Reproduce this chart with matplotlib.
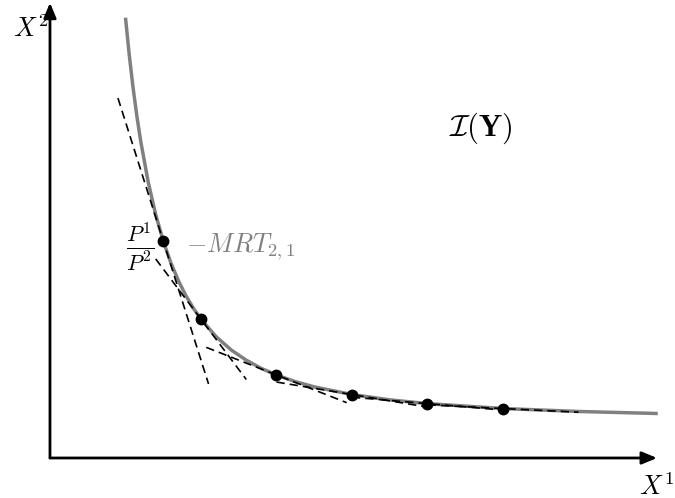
import numpy as np
import matplotlib
matplotlib.use("Agg")
import matplotlib.pyplot as plt

plt.rcParams['mathtext.fontset'] = 'cm'
plt.rcParams['font.family'] = 'DejaVu Serif'

# isoquant I(Y): points along the curve
curve_x = [1.0, 1.05, 1.1, 1.15, 1.2, 1.3, 1.4, 1.5, 1.6, 1.7, 1.8, 1.9, 2.0,
           2.2, 2.4, 2.6, 2.8, 3.0, 3.25, 3.5, 4.0, 4.5, 5.0, 6.0, 7.0, 8.05]
curve_y = [5.832, 5.337, 4.908, 4.533, 4.205, 3.658, 3.224, 2.874, 2.587,
           2.350, 2.150, 1.982, 1.838, 1.607, 1.431, 1.295, 1.186, 1.099,
           1.011, 0.942, 0.840, 0.770, 0.720, 0.655, 0.616, 0.589]

# tangency points, slopes of the tangents and how far each tangent reaches
dot_x = [1.5, 2.0, 3.0, 4.0, 5.0, 6.0]
dot_y = [2.874, 1.838, 1.099, 0.840, 0.720, 0.655]
slopes = [-3.156, -1.331, -0.394, -0.166, -0.085, -0.049]
half_width = [0.6, 0.6, 0.93, 1.0, 1.0, 1.0]

fig = plt.figure(figsize=(6.75, 4.98), dpi=100)
ax = fig.add_axes([0, 0, 1, 1])
ax.set_xlim(-0.662, 8.278)
ax.set_ylim(-0.530, 6.066)
ax.axis('off')

# axes with arrow heads
arrow = dict(arrowstyle='-|>,head_length=0.6,head_width=0.25', lw=2.0,
             color='k', mutation_scale=15, shrinkA=0, shrinkB=0)
ax.annotate('', xy=(8.04, 0), xytext=(0, 0), arrowprops=arrow)
ax.annotate('', xy=(0, 6.03), xytext=(0, 0), arrowprops=arrow)

# the isoquant
ax.plot(curve_x, curve_y, color='0.5', lw=2.5, solid_capstyle='butt', zorder=2)

# tangent lines at each point
for x0, y0, m, w in zip(dot_x, dot_y, slopes, half_width):
    xs = np.array([x0 - w, x0 + w])
    ax.plot(xs, y0 + m * (xs - x0), color='k', lw=1.2, dashes=(5, 3), zorder=3)

ax.plot(dot_x, dot_y, 'o', color='k', ms=7.5, zorder=4)

# labels
ax.text(-0.49, 5.57, r'$X^2$', fontsize=19, ha='left', va='baseline')
ax.text(7.80, -0.49, r'$X^1$', fontsize=19, ha='left', va='baseline')
ax.text(5.70, 4.37, r'$\mathcal{I}(\mathbf{Y})$', fontsize=22,
        ha='center', va='center')
ax.text(1.20, 2.79, r'$\frac{P^1}{P^2}$', fontsize=23, ha='center', va='center')
ax.text(1.80, 2.73, r'$-MRT_{2,1}$', fontsize=19, color='0.5',
        ha='left', va='baseline')

fig.savefig("out.png", dpi=100)
